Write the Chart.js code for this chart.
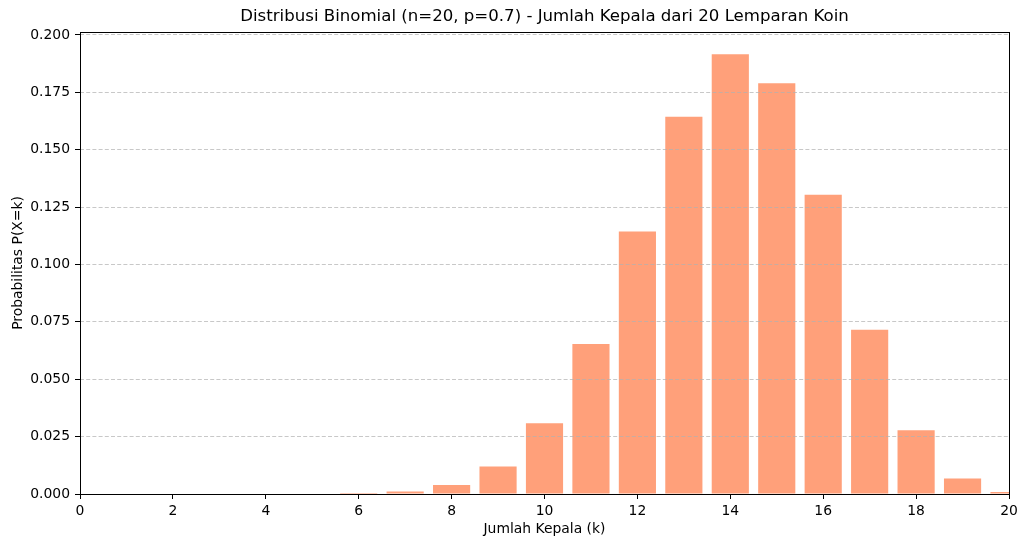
<!DOCTYPE html>
<html>
<head>
<meta charset="utf-8">
<script src="https://cdn.jsdelivr.net/npm/chart.js@4/dist/chart.umd.min.js"></script>
<style>
  body { margin: 0; background: #fff; }
  canvas { display: block; }
</style>
</head>
<body>
<canvas id="binomChart" width="1027" height="547"></canvas>
<script>
// data
const kValues = [0, 1, 2, 3, 4, 5, 6, 7, 8, 9, 10, 11, 12, 13, 14, 15, 16, 17, 18, 19, 20];
const probValues = [0, 0, 0, 0, 0, 0, 0.0004, 0.0011, 0.0039, 0.0120, 0.0308, 0.0654,
                    0.1144, 0.1643, 0.1916, 0.1789, 0.1304, 0.0716, 0.0278, 0.0068, 0.0009];
const xTicks = [0, 2, 4, 6, 8, 10, 12, 14, 16, 18, 20];
const yTicks = [0, 0.025, 0.05, 0.075, 0.1, 0.125, 0.15, 0.175, 0.2];

const chartTitle = 'Distribusi Binomial (n=20, p=0.7) - Jumlah Kepala dari 20 Lemparan Koin';
const xTitle = 'Jumlah Kepala (k)';
const yTitle = 'Probabilitas P(X=k)';

const FONT = 'DejaVu Sans';

// kotak hitam di sekeliling area plot (spines)
const framePlugin = {
    id: 'frame',
    afterDraw(chart) {
        const { ctx, chartArea: a } = chart;
        ctx.save();
        ctx.strokeStyle = '#000';
        ctx.lineWidth = 1;
        ctx.strokeRect(Math.round(a.left) + 0.5, Math.round(a.top) + 0.5,
                       Math.round(a.right - a.left), Math.round(a.bottom - a.top));
        ctx.restore();
    }
};

new Chart(document.getElementById('binomChart'), {
    type: 'bar',
    data: {
        datasets: [{
            data: kValues.map((k, i) => ({ x: k, y: probValues[i] })),
            backgroundColor: '#FFA07A',
            borderWidth: 0,
            barPercentage: 0.8,
            categoryPercentage: 1.0
        }]
    },
    options: {
        responsive: false,
        animation: false,
        layout: { padding: { left: 0, right: 18, top: 0, bottom: 0 } },
        plugins: {
            legend: { display: false },
            tooltip: { enabled: false },
            title: {
                display: true,
                text: chartTitle,
                fullSize: false,
                color: '#000',
                font: { family: FONT, size: 16.6, weight: 'normal', lineHeight: 1.2 },
                padding: { top: 7, bottom: 5 }
            }
        },
        scales: {
            x: {
                type: 'linear',
                min: 0,
                max: 20,
                offset: false,
                afterBuildTicks: s => { s.ticks = xTicks.map(v => ({ value: v })); },
                afterFit: s => { s.height = 53; },
                grid: {
                    offset: false,
                    drawOnChartArea: false,
                    drawTicks: true,
                    tickLength: 5,
                    tickColor: '#000',
                    tickWidth: 1
                },
                border: { display: false },
                ticks: {
                    color: '#000',
                    padding: 4,
                    maxRotation: 0,
                    font: { family: FONT, size: 13.9 },
                    callback: v => String(v)
                },
                title: {
                    display: true,
                    text: xTitle,
                    color: '#000',
                    font: { family: FONT, size: 13.9, lineHeight: 1.2 },
                    padding: { top: 0, bottom: 9 }
                }
            },
            y: {
                min: 0,
                max: 0.2013,
                afterBuildTicks: s => { s.ticks = yTicks.map(v => ({ value: v })); },
                afterFit: s => { s.width = 80; },
                grid: {
                    color: 'rgba(176,176,176,0.7)',
                    lineWidth: 1,
                    z: 1,
                    drawTicks: true,
                    tickLength: 5,
                    tickColor: '#000',
                    tickWidth: 1,
                    tickBorderDash: []
                },
                border: { display: false, dash: [4, 2.2] },
                ticks: {
                    color: '#000',
                    padding: 5,
                    font: { family: FONT, size: 13.9 },
                    callback: v => v.toFixed(3)
                },
                title: {
                    display: true,
                    text: yTitle,
                    color: '#000',
                    font: { family: FONT, size: 13.9, lineHeight: 1.2 },
                    padding: { top: 10, bottom: 0 }
                }
            }
        }
    },
    plugins: [framePlugin]
});
</script>
</body>
</html>
